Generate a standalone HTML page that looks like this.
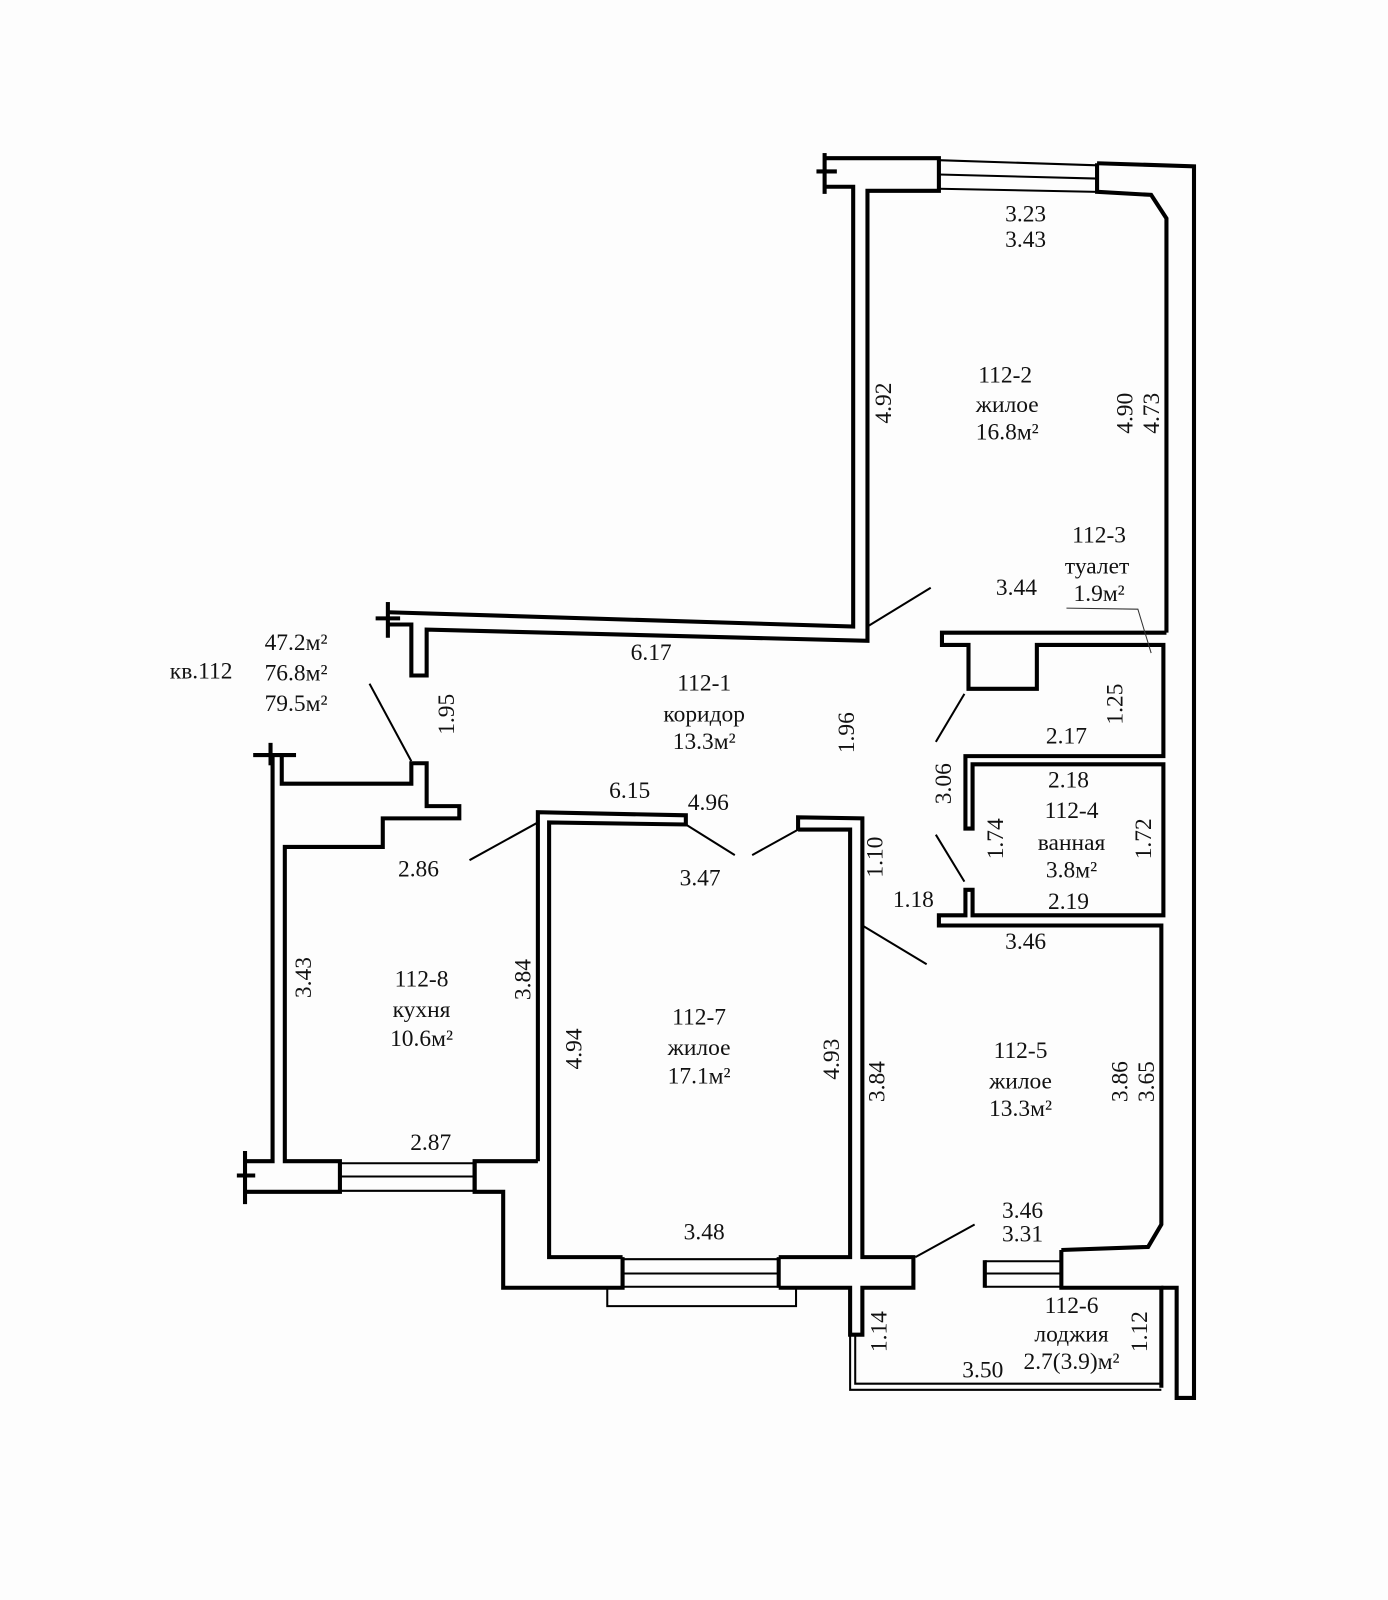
<!DOCTYPE html>
<html><head><meta charset="utf-8"><style>
html,body{margin:0;padding:0;background:#fff;}
svg{display:block;}
text{font-family:"Liberation Serif",serif;font-size:23px;fill:#111;text-anchor:middle;dominant-baseline:central;}
</style></head><body>
<svg width="1388" height="1600" viewBox="0 0 1360 1568" xmlns="http://www.w3.org/2000/svg">
<rect width="1360" height="1568" fill="#fdfdfd"/>
<g fill="none" stroke="#000" stroke-width="4" stroke-linejoin="miter">
<line x1="800" y1="168" x2="820" y2="168"/>
<line x1="808" y1="150" x2="808" y2="190"/>
<polyline points="380,612 403,612 403,662 418,662 418,617 850,628 850,187 920,187 920,155 808,155"/>
<polyline points="380,600 836,614 836,183 808,183"/>
<line x1="380" y1="590" x2="380" y2="625"/>
<line x1="368" y1="606" x2="392" y2="606"/>
<polyline points="1075,160 1170,163 1170,1370 1153,1370 1153,1262 1138,1262"/>
<polyline points="1075,160 1075,188 1128,191 1143,214 1143,620"/>
<polyline points="1143,620 923,620 923,632 949,632 949,675 1016,675 1016,632 1140,632 1140,741 946,741 946,812 953,812 953,749 1140,749 1140,897 953,897 953,872 946,872 946,897 920,897 920,907 1138,907 1138,1200 1125,1222 1040,1225"/>
<polyline points="527,1138 527,796 672,799 672,808 538,806 538,1232 610,1232"/>
<polyline points="782,813 782,801 845,802 845,1232 895,1232 895,1262 845,1262 845,1308 833,1308 833,1262 763,1262"/>
<polyline points="782,813 833,813 833,1232 763,1232"/>
<polyline points="610,1232 610,1262 493,1262 493,1168 465,1168 465,1138 527,1138"/>
<line x1="763" y1="1232" x2="763" y2="1262"/>
<polyline points="248,740 290,740"/>
<line x1="265" y1="728" x2="265" y2="750"/>
<polyline points="276,740 276,768 403,768 403,748 418,748 418,790 450,790 450,802 375,802 375,830 279,830 279,1138 333,1138 333,1168 240,1168"/>
<polyline points="267,740 267,1138 240,1138"/>
<line x1="240" y1="1128" x2="240" y2="1180"/>
<line x1="232" y1="1152" x2="250" y2="1152"/>
<line x1="465" y1="1138" x2="465" y2="1168"/>
<polyline points="965,1235 965,1262"/>
<polyline points="1040,1225 1040,1262 1138,1262 1138,1360"/>
</g>
<g fill="none" stroke="#000" stroke-width="2">
<line x1="920" y1="157" x2="1075" y2="162"/><line x1="920" y1="171" x2="1075" y2="175"/><line x1="920" y1="185" x2="1075" y2="188"/>
<line x1="333" y1="1140" x2="465" y2="1140"/><line x1="333" y1="1153" x2="465" y2="1153"/><line x1="333" y1="1167" x2="465" y2="1167"/>
<line x1="610" y1="1234" x2="763" y2="1234"/><line x1="610" y1="1248" x2="763" y2="1248"/><line x1="610" y1="1261" x2="763" y2="1261"/>
<polyline points="595,1262 595,1280 780,1280 780,1262"/>
<line x1="965" y1="1236" x2="1040" y2="1236"/><line x1="965" y1="1248" x2="1040" y2="1248"/><line x1="965" y1="1261" x2="1040" y2="1261"/>
<polyline points="833,1308 833,1362 1138,1362"/>
<polyline points="838,1308 838,1356 1138,1356"/>
<line x1="850" y1="614" x2="912" y2="576"/>
<line x1="362" y1="670" x2="403" y2="746"/>
<line x1="460" y1="843" x2="527" y2="806"/>
<line x1="672" y1="808" x2="720" y2="838"/>
<line x1="737" y1="838" x2="782" y2="813"/>
<line x1="845" y1="907" x2="908" y2="945"/>
<line x1="945" y1="680" x2="917" y2="727"/>
<line x1="917" y1="818" x2="945" y2="864"/>
<line x1="897" y1="1232" x2="955" y2="1200"/>
</g>
<polyline points="1045,596 1115,597 1128,640" fill="none" stroke="#333" stroke-width="1"/>
<text x="1005" y="210">3.23</text><text x="1005" y="235">3.43</text>
<text x="985" y="368">112-2</text><text x="987" y="397">жилое</text><text x="987" y="424">16.8м²</text>
<text transform="translate(866,395) rotate(-90)">4.92</text>
<text transform="translate(1103,405) rotate(-90)">4.90</text>
<text transform="translate(1129,405) rotate(-90)">4.73</text>
<text x="1077" y="525">112-3</text><text x="1075" y="555">туалет</text><text x="1077" y="582">1.9м²</text>
<text x="996" y="576">3.44</text>
<text x="638" y="640">6.17</text>
<text x="690" y="670">112-1</text><text x="690" y="700">коридор</text><text x="690" y="727">13.3м²</text>
<text transform="translate(830,718) rotate(-90)">1.96</text>
<text transform="translate(438,700) rotate(-90)">1.95</text>
<text x="197" y="658">кв.112</text>
<text x="290" y="630">47.2м²</text><text x="290" y="660">76.8м²</text><text x="290" y="690">79.5м²</text>
<text x="1045" y="722">2.17</text>
<text transform="translate(1093,690) rotate(-90)">1.25</text>
<text transform="translate(925,768) rotate(-90)">3.06</text>
<text x="1047" y="765">2.18</text><text x="1050" y="795">112-4</text><text x="1050" y="826">ванная</text><text x="1050" y="853">3.8м²</text>
<text transform="translate(976,822) rotate(-90)">1.74</text>
<text transform="translate(1121,822) rotate(-90)">1.72</text>
<text x="1047" y="884">2.19</text><text x="895" y="882">1.18</text><text x="1005" y="923">3.46</text>
<text x="617" y="775">6.15</text><text x="694" y="787">4.96</text><text x="686" y="861">3.47</text>
<text transform="translate(858,840) rotate(-90)">1.10</text>
<text x="410" y="852">2.86</text>
<text transform="translate(298,958) rotate(-90)">3.43</text>
<text x="413" y="960">112-8</text><text x="413" y="990">кухня</text><text x="413" y="1018">10.6м²</text>
<text transform="translate(513,960) rotate(-90)">3.84</text>
<text transform="translate(563,1028) rotate(-90)">4.94</text>
<text x="685" y="997">112-7</text><text x="685" y="1027">жилое</text><text x="685" y="1055">17.1м²</text>
<text transform="translate(815,1038) rotate(-90)">4.93</text>
<text transform="translate(860,1060) rotate(-90)">3.84</text>
<text x="1000" y="1030">112-5</text><text x="1000" y="1060">жилое</text><text x="1000" y="1087">13.3м²</text>
<text transform="translate(1098,1060) rotate(-90)">3.86</text>
<text transform="translate(1124,1060) rotate(-90)">3.65</text>
<text x="422" y="1120">2.87</text><text x="690" y="1208">3.48</text>
<text x="1002" y="1187">3.46</text><text x="1002" y="1210">3.31</text>
<text x="1050" y="1280">112-6</text><text x="1050" y="1308">лоджия</text><text x="1050" y="1335">2.7(3.9)м²</text>
<text transform="translate(862,1305) rotate(-90)">1.14</text>
<text transform="translate(1117,1305) rotate(-90)">1.12</text>
<text x="963" y="1343">3.50</text>
</svg>
</body></html>
